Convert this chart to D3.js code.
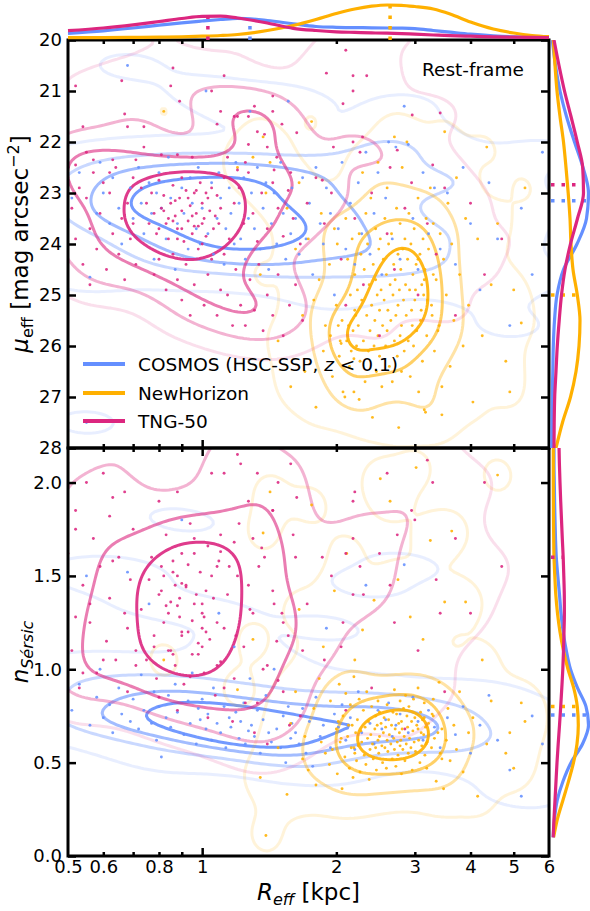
<!DOCTYPE html>
<html>
<head>
<meta charset="utf-8">
<script src="https://cdn.jsdelivr.net/npm/d3@7"></script>
<style>
  html, body { margin: 0; padding: 0; background: #fff; }
  svg { display: block; }
</style>
</head>
<body>
<script>
// ---------------------------------------------------------------
// Galaxy samples: each row is [R_eff (kpc), mu_eff (mag/arcsec^2), n_Sersic]
// ---------------------------------------------------------------
const cosmos = [
  [0.46,22.9,0.8],[0.48,23.5,0.72],[0.47,24.3,0.95],
  [0.51,23.1,0.78],[0.53,22.6,0.92],[0.55,27.5,1.5],[0.56,24.65,0.7],[0.58,23.4,0.85],[0.59,22.4,1.0],
  [0.6,23.0,0.74],[0.62,23.6,0.81],[0.63,22.7,0.66],[0.65,23.3,0.9],[0.66,24.0,0.76],[0.68,20.5,1.52],
  [0.69,22.9,0.72],[0.7,23.5,0.84],[0.72,22.5,0.68],[0.73,23.2,0.97],[0.74,23.8,0.78],[0.76,22.8,1.35],
  [0.77,23.4,0.71],[0.78,24.3,0.88],[0.79,23.0,0.62],
  [0.8,22.6,0.8],[0.81,23.3,0.53],[0.83,23.9,0.74],[0.84,22.3,0.86],[0.85,23.1,0.69],[0.87,24.5,0.92],
  [0.88,23.6,0.77],[0.9,22.9,1.8],[0.91,23.4,0.65],[0.93,24.1,0.83],[0.94,22.7,0.71],[0.95,23.2,0.98],
  [0.97,23.7,0.6],[0.98,22.5,0.79],[0.99,24.0,0.73],
  [1.0,23.3,0.84],[1.02,21.0,0.68],[1.03,23.8,0.76],[1.05,22.8,0.62],[1.06,24.2,0.9],[1.08,23.5,0.71],
  [1.09,22.6,1.3],[1.1,23.1,0.66],[1.12,24.4,0.8],[1.13,23.7,0.58],[1.15,22.9,0.74],[1.16,23.4,0.69],
  [1.18,24.0,1.12],[1.19,22.4,0.77],[1.21,23.2,0.63],[1.22,23.9,0.72],[1.24,22.7,0.82],[1.25,24.3,0.6],
  [1.27,23.5,0.67],[1.28,21.4,0.95],[1.29,23.0,0.7],
  [1.31,23.7,0.64],[1.33,22.5,0.78],[1.35,24.1,0.55],[1.37,23.3,0.73],[1.39,22.8,0.86],[1.41,24.5,0.66],
  [1.43,23.6,0.61],[1.45,23.0,1.0],[1.47,24.0,0.68],[1.5,22.4,0.58],[1.52,23.4,0.75],[1.54,24.3,0.5],
  [1.56,21.2,0.8],[1.58,23.8,0.63],[1.59,22.9,0.71],
  [1.62,23.5,0.66],[1.65,24.2,0.6],[1.68,22.7,0.79],[1.71,23.9,0.55],[1.74,23.2,0.72],[1.77,24.6,0.48],
  [1.8,22.5,0.85],[1.84,23.6,0.64],[1.87,24.0,0.7],[1.9,22.9,1.22],[1.94,23.4,0.58],[1.98,25.0,0.76],
  [2.02,23.7,0.69],[2.06,22.4,0.81],[2.1,24.1,0.62],[2.15,23.2,0.74],[2.2,24.4,0.57],[2.24,22.8,0.88],
  [2.28,23.8,0.66],[2.33,22.2,1.45],[2.38,24.2,0.71],[2.43,23.4,0.6],[2.48,22.6,0.78],[2.53,24.6,0.68],
  [2.58,23.1,0.73],
  [2.62,22.0,0.82],[2.67,23.9,0.64],[2.72,22.1,0.7],[2.78,24.3,0.76],[2.84,21.3,1.56],[2.9,22.05,0.66],
  [2.97,23.5,0.85],[3.05,24.5,0.72],[3.13,22.6,0.62],[3.22,23.8,0.78],[3.32,22.9,0.69],[3.42,24.1,0.58],
  [3.55,23.0,0.74],[3.7,24.4,0.65],[3.85,22.5,0.8],[4.0,23.6,0.55],[4.2,24.9,0.7],[4.4,22.8,0.86],
  [4.6,23.9,0.62],[4.9,25.6,0.46],[5.2,23.3,0.32],[5.5,24.6,0.75],[5.8,22.2,0.6]
];

const newHorizon = [
  [0.82,21.4,1.05],[1.2,22.5,0.89],[1.3,22.3,1.16],[1.37,21.9,1.73],[1.39,23.0,0.11],
  [1.35,24.6,0.42],[1.42,22.4,1.95],[1.48,25.9,0.58],[1.55,23.3,0.33],[1.58,26.8,0.71],
  [1.62,24.1,0.88],[1.65,22.8,1.32],[1.68,25.4,0.52],[1.7,26.5,0.64],[1.73,23.9,0.46],[1.76,21.6,1.88],
  [1.78,25.1,0.79],[1.8,27.2,0.38],[1.83,24.7,0.95],[1.85,23.4,0.61],[1.87,26.1,1.12],[1.89,25.6,0.55],
  [2.02,25.6,0.72],[1.93,24.4,0.49],[1.94,25.8,0.83],[1.96,26.6,0.57],[1.98,23.7,1.42],[2.0,25.2,0.68],
  [2.01,24.0,0.44],[2.03,26.2,0.92],[2.04,25.9,0.61],[2.06,25.5,0.36],[2.07,26.9,0.75],[2.09,27.0,0.53],
  [2.1,23.5,0.87],[2.11,25.9,1.62],[2.12,24.3,0.64],[2.14,26.4,0.47],[2.15,25.0,0.81],[2.16,26.1,0.58],
  [2.17,23.9,0.7],[2.18,25.7,0.42],[2.19,26.9,0.96],[2.2,24.6,0.55],[2.2,25.3,1.05],[2.21,25.4,0.66],
  [2.22,26.0,0.51],[2.05,25.95,0.63],[2.13,25.6,0.7],[2.19,26.25,0.58],
  [2.23,24.9,0.73],[2.24,25.6,0.59],[2.25,23.8,0.84],[2.25,27.05,0.6],[2.26,26.3,0.45],[2.27,24.2,0.67],
  [2.28,25.1,0.61],[2.29,22.6,1.21],[2.3,25.9,0.78],[2.31,24.5,0.54],[2.32,26.7,0.69],[2.33,23.4,0.49],
  [2.34,25.4,0.88],[2.35,24.0,0.63],[2.36,26.1,0.72],[2.37,24.8,0.41],[2.38,25.7,0.57],[2.39,23.1,0.65],
  [2.4,25.2,0.8],[2.41,27.4,0.6],[2.42,24.4,0.52],[2.43,26.0,1.37],[2.44,25.5,0.68],[2.45,23.7,0.75],
  [2.45,24.7,0.58],[2.46,26.5,0.46],[2.47,25.0,0.7],[2.48,22.4,0.83],[2.48,25.8,0.62],[2.49,24.1,0.55],
  [2.5,26.2,0.77],[2.5,25.3,0.64],[2.51,23.9,2.02],[2.52,24.9,0.71],[2.53,26.8,0.59],[2.54,25.6,0.5],
  [2.55,24.3,0.66],[2.56,25.1,0.74],[2.57,23.5,0.58],[2.58,26.0,0.69],[2.59,24.6,0.47],[2.6,25.7,0.81],
  [2.6,22.9,0.62],[2.61,25.3,0.56],[2.62,24.0,0.73],[2.63,26.4,0.65],[2.64,24.8,1.9],[2.65,25.5,0.6],
  [2.66,23.8,0.7],[2.67,26.7,0.52],[2.68,25.0,0.77],[2.69,24.4,0.63],[2.7,21.9,0.89],[2.7,25.9,0.57],
  [2.71,24.7,0.68],[2.72,25.4,0.48],[2.73,23.3,0.76],[2.74,26.2,0.61],[2.75,24.2,0.54],[2.75,25.2,1.48],
  [2.76,27.6,0.71],[2.77,24.9,0.66],[2.78,23.6,0.59],[2.78,25.8,0.83],[2.79,24.5,0.62],[2.8,26.5,0.44],
  [2.8,25.6,0.72],[2.81,22.5,0.68],[2.82,24.1,0.57],[2.83,25.1,0.79],[2.84,26.1,0.64],[2.85,23.9,0.51],
  [2.86,24.8,0.86],[2.87,25.4,0.6],
  [2.88,22.0,0.75],[2.89,24.3,0.69],[2.9,25.9,0.55],[2.91,23.4,0.8],[2.92,24.9,0.63],[2.93,26.6,1.28],
  [2.94,24.0,0.58],[2.95,25.3,0.72],[2.96,25.6,0.46],[2.97,24.6,0.67],[2.98,26.0,0.84],[2.99,23.7,0.61],
  [3.0,25.1,0.74],[3.01,24.9,0.56],[3.02,24.4,2.08],[3.03,25.7,0.7],[3.05,23.1,0.9],[3.06,26.9,0.62],
  [3.08,24.2,0.5],[3.09,25.5,0.77],[3.1,25.3,0.66],[3.11,24.8,0.59],[3.12,26.3,0.73],[3.13,23.9,1.16],
  [3.14,25.0,0.65],[3.15,27.25,0.74],[3.15,24.7,0.82],[3.16,24.5,0.54],[3.17,27.3,0.69],[3.18,23.5,0.6],
  [3.19,25.8,0.47],[3.05,24.3,0.68],[3.2,25.1,0.61],[3.3,24.6,0.75],[3.38,25.7,0.66],
  [3.22,24.1,0.71],[3.25,22.9,1.69],[3.27,25.2,0.58],[3.3,23.6,0.84],[3.32,26.1,0.63],[3.35,24.7,0.4],
  [3.28,25.4,0.76],[3.4,25.6,0.93],[3.42,23.8,0.55],[3.45,26.8,0.68],[3.45,27.35,0.52],[3.48,24.3,0.36],
  [3.5,21.8,1.36],[3.53,25.0,0.62],[3.56,23.2,0.79],[3.6,26.4,0.51],[3.63,24.0,1.74],[3.67,25.5,0.7],
  [3.72,22.7,0.57],[3.78,24.6,0.88],[3.85,26.0,0.45],[3.9,23.5,1.36],[3.96,25.2,0.66],[4.05,27.1,0.74],
  [4.15,23.9,0.32],[4.25,25.8,1.05],[4.35,22.1,0.6],[4.45,24.8,0.83],
  [4.6,23.6,2.04],[4.8,26.3,0.55],[4.9,26.9,0.66],[5.0,24.9,0.47],[5.2,25.55,0.82],[5.3,22.9,0.72]
];

const tng50 = [
  // compact and very bright systems near the plot edges
  [0.45,22.6,1.45],[0.47,23.4,1.9],[0.46,21.8,2.6],[0.48,24.1,1.2],[0.44,23.0,2.1],[0.49,22.2,0.95],
  [0.8,19.6,2.4],[1.3,19.8,1.7],[2.2,19.7,2.9],[1.0,19.4,1.35],[0.6,19.8,1.05],[3.0,19.9,1.8],
  // high surface brightness band
  [0.86,20.55,1.52],[0.66,20.8,2.3],[0.52,20.9,1.75],[1.12,20.7,2.05],[0.85,20.9,1.1],[1.05,21.0,2.7],
  [0.89,21.2,1.38],[0.67,21.45,1.95],[0.68,21.7,1.22],[0.74,21.7,2.45],[0.54,21.7,0.98],[1.18,21.5,1.68],
  [1.2,21.5,2.15],[1.27,21.5,1.45],[1.31,21.3,3.1],[1.44,21.1,1.85],[1.44,21.4,2.4],[1.51,21.65,1.3],
  [1.33,21.8,2.05],[1.38,21.85,1.6],[1.4,22.1,2.8],[1.47,22.3,1.15],[1.27,22.05,1.9],[1.14,22.3,2.25],
  [1.08,21.65,1.55],[1.1,21.4,1.72],[0.95,22.3,2.5],[0.81,22.25,1.42],[0.88,22.25,1.95],[0.71,22.35,1.1],
  [0.74,22.1,2.35],[0.63,22.35,1.58],[0.57,22.35,2.9],[0.52,22.45,1.28],[0.55,22.2,2.0],[0.62,22.6,1.82],
  [1.2,22.55,1.5],[1.25,22.4,2.6],[1.45,22.55,1.35],[1.58,22.6,2.1],[2.1,20.2,1.62],[1.9,20.65,2.35],
  [2.18,20.7,1.4],[2.34,20.7,2.75],[2.18,21.0,1.9],[2.07,21.25,1.25],[2.29,21.9,2.2],[2.18,22.0,1.7],
  [1.97,22.1,2.45],[2.26,22.2,1.55],[3.29,22.45,2.0],[2.64,22.5,1.45],[2.74,22.16,1.72],[2.96,21.47,2.3],
  [3.42,21.43,1.3],[1.63,21.82,1.92],[1.86,22.75,1.6],
  // dense core
  [0.73,22.9,1.32],[0.75,23.2,1.05],[0.76,23.6,1.48],[0.77,23.0,1.6],[0.78,23.4,1.18],[0.79,23.8,0.95],
  [0.8,22.75,1.4],[0.81,23.3,1.55],[0.82,23.05,1.25],[0.83,23.6,1.72],[0.84,23.9,1.1],[0.85,23.2,1.36],
  [0.86,22.85,2.3],[0.87,23.45,1.02],[0.88,23.7,1.5],[0.89,23.1,1.28],[0.9,23.35,1.62],[0.91,23.95,0.92],
  [0.92,22.95,1.44],[0.93,23.55,1.2],[0.94,23.25,1.78],[0.95,23.8,1.08],[0.96,23.0,1.35],[0.97,23.4,2.6],
  [0.98,23.65,1.14],[0.99,22.8,1.52],[1.0,23.2,1.3],[1.01,23.5,0.98],[1.02,23.85,1.42],[1.03,23.1,1.66],
  [1.04,23.35,1.16],[1.05,22.9,2.05],[1.06,23.7,1.38],[1.07,23.45,0.86],[1.08,23.05,1.25],[1.09,23.6,1.58],
  [1.1,23.3,1.04],[0.8,23.7,1.9],[0.9,22.7,1.46],[1.0,24.0,1.22],
  [0.84,23.5,1.3],[0.87,23.15,1.45],[0.9,23.7,1.18],[0.93,23.1,1.56],[0.95,23.45,1.26],[0.97,22.95,1.4],
  [1.0,23.6,1.12],[0.82,23.35,1.5],[0.88,23.9,1.34],[0.96,23.65,1.62],[1.02,23.0,1.2],[0.86,23.55,1.08],
  // smallest sizes
  [0.5,22.5,1.62],[0.51,23.3,1.1],[0.52,23.9,1.85],[0.53,22.9,0.9],[0.54,24.4,1.45],[0.55,23.1,2.4],
  [0.56,23.7,1.25],[0.57,22.6,1.7],[0.58,24.1,0.98],[0.59,23.4,1.55],[0.6,22.8,2.05],[0.61,24.5,1.15],
  [0.62,23.0,1.38],[0.63,23.8,1.92],[0.64,22.5,1.05],[0.65,24.2,1.6],[0.66,23.5,2.25],[0.67,24.7,1.3],
  [0.68,23.2,0.88],[0.69,23.9,1.48],[0.7,22.7,1.75],[0.71,24.4,1.02],[0.7,23.6,2.8],[0.56,24.8,1.35],
  // fainter diagonal sequence
  [0.78,24.6,1.12],[0.8,24.3,0.85],[0.83,24.9,1.34],[0.86,24.2,1.58],[0.88,24.7,0.78],[0.9,25.1,1.2],
  [0.92,24.4,1.45],[0.94,25.4,0.96],[0.96,24.8,1.7],[0.98,24.1,1.08],[1.01,25.2,1.28],[1.03,24.6,0.74],
  [1.05,24.3,1.5],[1.08,25.4,1.02],[1.1,24.9,1.63],[1.12,24.2,0.9],[1.14,25.0,1.4],[1.17,25.6,0.72],
  [1.19,24.5,1.18],[1.22,25.2,2.1],[1.25,25.6,0.82],[1.28,24.7,1.32],[1.31,25.3,0.66],[1.34,24.4,1.55],
  [1.37,25.7,1.0],[1.4,25.0,0.6],[1.44,25.4,1.85],[1.48,24.6,0.94],[1.52,25.8,1.25],[1.57,25.2,0.7],
  [1.62,24.8,1.6],[1.68,25.5,1.1],
  // intermediate sizes
  [1.12,22.7,1.22],[1.15,23.9,1.55],[1.18,23.2,0.95],[1.21,22.9,1.78],[1.24,23.6,1.12],[1.27,22.6,2.35],
  [1.3,23.4,1.3],[1.33,23.95,0.82],[1.36,23.0,1.65],[1.4,23.7,1.02],[1.44,22.8,1.42],[1.48,23.3,2.0],
  [1.52,23.85,0.88],[1.56,22.95,1.18],[1.6,23.5,1.72],[1.66,24.0,0.75],[1.72,23.2,1.35],[1.8,22.7,2.2],
  [1.88,23.6,1.05],[1.95,23.0,1.5],
  // extended systems
  [2.05,24.3,1.12],[2.1,25.2,0.78],[2.2,23.5,1.95],[2.3,24.8,1.4],[2.4,23.0,0.9],[2.5,25.8,1.62],
  [2.6,23.8,2.05],[2.7,24.5,1.25],[2.85,23.3,0.68],[2.95,22.8,1.85],[3.05,25.0,1.1],[3.2,23.6,2.12],
  [3.35,24.2,1.48],[3.5,22.9,0.88],[3.7,25.4,1.7],[4.0,23.2,1.3],[4.3,24.6,2.0],[4.7,23.9,1.55]
];

// ---------------------------------------------------------------
// Marginal density curves (arbitrary density units) and medians
// ---------------------------------------------------------------
const reffGrid = [0.5,0.6,0.7,0.8,0.9,1.0,1.1,1.2,1.4,1.6,1.8,2.0,2.2,2.4,2.6,2.8,3.0,3.3,3.6,4.0,4.5,5.0,5.5,6.0];
const reffDensCosmos = [0.67,0.92,1.2,1.48,1.72,1.9,2.05,2.17,1.95,1.62,1.35,1.27,1.24,1.22,1.2,1.18,1.13,0.95,0.78,0.58,0.42,0.32,0.28,0.27];
const reffDensNH     = [0.23,0.24,0.26,0.28,0.32,0.38,0.45,0.55,0.95,1.45,2.05,2.65,3.1,3.38,3.5,3.47,3.35,3.1,2.6,1.8,1.1,0.7,0.45,0.33];
const reffDensTNG    = [0.93,1.2,1.52,1.85,2.15,2.37,2.38,2.2,1.7,1.17,0.95,0.82,0.76,0.71,0.68,0.64,0.58,0.5,0.43,0.38,0.32,0.28,0.27,0.25];

const muGrid = [20,20.5,21,21.5,22,22.5,23,23.5,24,24.5,25,25.5,26,26.5,27,27.5,28];
const muDensCosmos = [0.33,0.65,1.1,1.75,2.55,3.4,3.95,3.75,2.8,1.45,0.8,0.55,0.43,0.38,0.33,0.3,0.27];
const muDensNH     = [0.43,0.6,0.8,1.1,1.45,1.7,1.92,2.1,2.2,2.4,2.83,3.1,3.0,2.7,2.15,1.35,0.7];
const muDensTNG    = [0.5,1.0,1.55,2.2,2.83,3.37,3.45,2.85,2.15,1.6,1.25,1.02,0.83,0.7,0.57,0.52,0.5];

const nGrid = [0.1,0.2,0.3,0.4,0.5,0.6,0.7,0.8,0.9,1.0,1.1,1.2,1.3,1.4,1.5,1.6,1.7,1.8,1.9,2.0,2.1,2.2];
const nDensCosmos = [0.42,0.55,0.83,1.4,2.2,3.35,3.95,3.7,2.85,2.15,1.73,1.42,1.2,1.05,0.88,0.73,0.65,0.6,0.56,0.53,0.5,0.5];
const nDensNH     = [0.46,0.85,1.4,1.95,2.45,2.8,2.93,2.83,2.47,1.9,1.45,1.1,0.85,0.68,0.58,0.5,0.47,0.45,0.44,0.43,0.43,0.43];
const nDensTNG    = [0.42,0.5,0.6,0.7,0.8,0.92,1.05,1.17,1.28,1.38,1.45,1.5,1.54,1.53,1.48,1.42,1.33,1.25,1.17,1.1,1.04,1.0];

const reffMedian = [1.28, 2.64, 1.03];   // COSMOS, NewHorizon, TNG-50
const muMedian   = [23.15, 25.0, 22.84];
const nMedian    = [0.755, 0.80, 1.60];

// Axis ticks
const xTickVals  = [0.5,0.6,0.7,0.8,0.9,1,2,3,4,5,6];
const xLabelVals = [0.5,0.6,0.8,1,2,3,4,5,6];
const muTicks    = [20,21,22,23,24,25,26,27,28];
const nTicks     = [0,0.5,1.0,1.5,2.0];

const sampleNames  = ["COSMOS (HSC-SSP, ", "NewHorizon", "TNG-50"];
const sampleColors = ["#648FFF", "#FFB000", "#DC267F"];

// ---------------------------------------------------------------
const W = 590, H = 911;
const L = 68, R = 549, T0 = 40, MID = 448, B1 = 856;

const x    = d3.scaleLog().domain([0.5, 6]).range([L, R]);
const yTop = d3.scaleLinear().domain([20, 28]).range([T0, MID]);
const yBot = d3.scaleLinear().domain([0, 2.185]).range([B1, MID]);
const topMarg   = d3.scaleLinear().domain([0, 4]).range([T0, 0]);
const rightMarg = d3.scaleLinear().domain([0, 4]).range([R, R + 40]);

const svg = d3.select("body").append("svg")
  .attr("width", W).attr("height", H)
  .style("font-family", '"DejaVu Sans", sans-serif');

const defs = svg.append("defs");
defs.append("clipPath").attr("id", "clipTop").append("rect")
  .attr("x", L).attr("y", T0).attr("width", R - L).attr("height", MID - T0);
defs.append("clipPath").attr("id", "clipBot").append("rect")
  .attr("x", L).attr("y", MID).attr("width", R - L).attr("height", B1 - MID);
defs.append("clipPath").attr("id", "clipRTop").append("rect")
  .attr("x", R).attr("y", T0).attr("width", W - R).attr("height", MID - T0);
defs.append("clipPath").attr("id", "clipRBot").append("rect")
  .attr("x", R).attr("y", MID).attr("width", W - R).attr("height", B1 - MID);

const samples = [cosmos, newHorizon, tng50];

// ---------------------------------------------------------------
// Gaussian KDE in display space (Scott bandwidth, full covariance),
// contoured at iso-proportion levels of the probability mass.
// ---------------------------------------------------------------
const massLevels   = [0.95, 0.7125, 0.475, 0.2375];
const levelOpacity = [0.15, 0.35, 0.6, 0.9];

function kdeContours(pts, bwAdjust) {
  const n = pts.length;
  const mx = d3.mean(pts, p => p[0]), my = d3.mean(pts, p => p[1]);
  let cxx = 0, cyy = 0, cxy = 0;
  for (const [px, py] of pts) {
    cxx += (px - mx) * (px - mx);
    cyy += (py - my) * (py - my);
    cxy += (px - mx) * (py - my);
  }
  cxx /= (n - 1); cyy /= (n - 1); cxy /= (n - 1);
  const f = Math.pow(n, -1 / 6) * bwAdjust, f2 = f * f;
  const a = cxx * f2, b = cxy * f2, d = cyy * f2;
  const det = a * d - b * b;
  const ia = d / det, ib = -b / det, id = a / det;
  const sx = Math.sqrt(a), sy = Math.sqrt(d);
  const cell = 3;
  const x0 = Math.min(d3.min(pts, p => p[0]) - 3 * sx, L - 20);
  const x1 = Math.max(d3.max(pts, p => p[0]) + 3 * sx, R + 20);
  const y0 = Math.min(d3.min(pts, p => p[1]) - 3 * sy, T0 - 20);
  const y1 = Math.max(d3.max(pts, p => p[1]) + 3 * sy, B1 + 20);
  const nx = Math.ceil((x1 - x0) / cell) + 1, ny = Math.ceil((y1 - y0) / cell) + 1;
  const values = new Float64Array(nx * ny);
  for (const [px, py] of pts) {
    const i0 = Math.max(0, Math.floor((px - 4.5 * sx - x0) / cell));
    const i1 = Math.min(nx - 1, Math.ceil((px + 4.5 * sx - x0) / cell));
    const j0 = Math.max(0, Math.floor((py - 4.5 * sy - y0) / cell));
    const j1 = Math.min(ny - 1, Math.ceil((py + 4.5 * sy - y0) / cell));
    for (let j = j0; j <= j1; j++) {
      const dy = y0 + j * cell - py;
      for (let i = i0; i <= i1; i++) {
        const dx = x0 + i * cell - px;
        const q = ia * dx * dx + 2 * ib * dx * dy + id * dy * dy;
        if (q < 30) values[j * nx + i] += Math.exp(-0.5 * q);
      }
    }
  }
  const sorted = Float64Array.from(values).sort().reverse();
  const total = d3.sum(sorted);
  const thresholds = massLevels.map(p => {
    let c = 0;
    for (let k = 0; k < sorted.length; k++) {
      c += sorted[k];
      if (c >= p * total) return sorted[k];
    }
    return sorted[sorted.length - 1];
  });
  const gen = d3.contours().size([nx, ny]);
  const path = d3.geoPath(d3.geoTransform({
    point(gx, gy) { this.stream.point(x0 + (gx - 0.5) * cell, y0 + (gy - 0.5) * cell); }
  }));
  return thresholds.map(t => path(gen.contour(values, t)));
}

function drawPanel(clipId, yScale, col, bwAdjusts) {
  const gC = svg.append("g").attr("clip-path", `url(#${clipId})`);
  samples.forEach((rows, k) => {
    const pts = rows.map(r => [x(r[0]), yScale(r[col])]);
    const paths = kdeContours(pts, bwAdjusts[k]);
    paths.forEach((p, li) => {
      gC.append("path").attr("d", p)
        .attr("fill", "none")
        .attr("stroke", sampleColors[k])
        .attr("stroke-opacity", levelOpacity[li])
        .attr("stroke-width", 3)
        .attr("stroke-linejoin", "round");
    });
  });
  const gP = svg.append("g").attr("clip-path", `url(#${clipId})`);
  samples.forEach((rows, k) => {
    gP.selectAll(null).data(rows).join("circle")
      .attr("cx", r => x(r[0]))
      .attr("cy", r => yScale(r[col]))
      .attr("r", 1.45)
      .attr("fill", sampleColors[k])
      .attr("fill-opacity", 0.88);
  });
}

drawPanel("clipTop", yTop, 1, [0.72, 0.75, 0.7]);
drawPanel("clipBot", yBot, 2, [0.72, 0.75, 0.7]);

// ---------------------------------------------------------------
// Axes: spines and inward ticks on all sides
// ---------------------------------------------------------------
const fmtX = d3.format("~g");
function xEdge(yPos, dir, labels) {
  const ax = (dir === "up" ? d3.axisBottom(x) : d3.axisTop(x))
    .tickValues(xTickVals).tickSize(0).tickPadding(4)
    .tickFormat(d => labels && xLabelVals.includes(d) ? fmtX(d) : "");
  const g = svg.append("g").attr("transform", `translate(0,${yPos})`).call(ax);
  g.select(".domain").remove();
  g.selectAll(".tick line")
    .attr("y2", d => {
      if (d === 0.5 || d === 6) return 0;
      const len = d === 1 ? 8 : 4;
      return dir === "up" ? -len : len;
    })
    .attr("stroke", "#000").attr("stroke-width", 2.5);
  g.selectAll(".tick text").attr("font-size", 18).attr("fill", "#000")
    .attr("font-family", '"DejaVu Sans", sans-serif');
}
xEdge(T0, "down", false);
xEdge(MID, "up", false);
xEdge(MID, "down", false);
xEdge(B1, "up", true);

function yEdges(scale, ticks, fmt) {
  const gl = svg.append("g").attr("transform", `translate(${L},0)`)
    .call(d3.axisLeft(scale).tickValues(ticks).tickSize(-8).tickPadding(6).tickFormat(fmt));
  gl.select(".domain").remove();
  gl.selectAll(".tick line").attr("stroke", "#000").attr("stroke-width", 2.5);
  gl.selectAll(".tick text").attr("font-size", 18).attr("fill", "#000")
    .attr("font-family", '"DejaVu Sans", sans-serif');
  const gr = svg.append("g").attr("transform", `translate(${R},0)`)
    .call(d3.axisRight(scale).tickValues(ticks).tickSize(-8).tickFormat(""));
  gr.select(".domain").remove();
  gr.selectAll(".tick line").attr("stroke", "#000").attr("stroke-width", 2.5);
}
yEdges(yTop, muTicks, d3.format("d"));
yEdges(yBot, nTicks, d3.format(".1f"));

svg.append("rect").attr("x", L).attr("y", T0).attr("width", R - L).attr("height", MID - T0)
  .attr("fill", "none").attr("stroke", "#000").attr("stroke-width", 3);
svg.append("rect").attr("x", L).attr("y", MID).attr("width", R - L).attr("height", B1 - MID)
  .attr("fill", "none").attr("stroke", "#000").attr("stroke-width", 3);

// ---------------------------------------------------------------
// Axis titles, annotation, legend
// ---------------------------------------------------------------
const xl = svg.append("text").attr("x", (L + R) / 2).attr("y", 900)
  .attr("text-anchor", "middle").attr("font-size", 23).attr("fill", "#000");
xl.append("tspan").attr("font-style", "italic").text("R");
xl.append("tspan").attr("font-style", "italic").attr("font-size", 16).attr("dy", 5).text("eff");
xl.append("tspan").attr("dy", -5).text(" [kpc]");

const ylt = svg.append("text")
  .attr("transform", `translate(28,${(T0 + MID) / 2}) rotate(-90)`)
  .attr("text-anchor", "middle").attr("font-size", 23).attr("fill", "#000");
ylt.append("tspan").attr("font-style", "italic").text("μ");
ylt.append("tspan").attr("font-size", 16).attr("dy", 5).text("eff");
ylt.append("tspan").attr("dy", -5).text(" [mag arcsec");
ylt.append("tspan").attr("font-size", 16).attr("dy", -9).text("−2");
ylt.append("tspan").attr("dy", 9).text("]");

const ylb = svg.append("text")
  .attr("transform", `translate(28,${(MID + B1) / 2}) rotate(-90)`)
  .attr("text-anchor", "middle").attr("font-size", 23).attr("fill", "#000");
ylb.append("tspan").attr("font-style", "italic").text("n");
ylb.append("tspan").attr("font-style", "italic").attr("font-size", 16).attr("dy", 5).text("Sérsic");

svg.append("text").attr("x", 422).attr("y", 76).attr("font-size", 18.5).attr("fill", "#000")
  .text("Rest-frame");

const legendY = [364, 393, 421];
sampleNames.forEach((name, k) => {
  svg.append("line").attr("x1", 83).attr("x2", 125).attr("y1", legendY[k]).attr("y2", legendY[k])
    .attr("stroke", sampleColors[k]).attr("stroke-width", 4);
  const t = svg.append("text").attr("x", 138).attr("y", legendY[k] + 6.6)
    .attr("font-size", 18.5).attr("fill", "#000");
  t.append("tspan").text(name);
  if (k === 0) {
    t.append("tspan").attr("font-style", "italic").text("z");
    t.append("tspan").text(" < 0.1)");
  }
});

// ---------------------------------------------------------------
// Marginal distributions with dotted median markers
// ---------------------------------------------------------------
function interpAt(grid, dens, v, logGrid) {
  const g = logGrid ? grid.map(Math.log) : grid;
  const u = logGrid ? Math.log(v) : v;
  const i = Math.max(1, Math.min(g.length - 1, d3.bisectLeft(g, u)));
  const t = (u - g[i - 1]) / (g[i] - g[i - 1]);
  return dens[i - 1] + t * (dens[i] - dens[i - 1]);
}

const reffDens = [reffDensCosmos, reffDensNH, reffDensTNG];
const muDens   = [muDensCosmos, muDensNH, muDensTNG];
const nDens    = [nDensCosmos, nDensNH, nDensTNG];

const gm = svg.append("g");
const topLine = d3.line().x((d, i) => x(reffGrid[i])).y(d => topMarg(d)).curve(d3.curveMonotoneX);
const gRT = gm.append("g").attr("clip-path", "url(#clipRTop)");
const gRB = gm.append("g").attr("clip-path", "url(#clipRBot)");
const muLine = d3.line().x(d => rightMarg(d)).y((d, i) => yTop(muGrid[i])).curve(d3.curveMonotoneY);
const nLine  = d3.line().x(d => rightMarg(d)).y((d, i) => yBot(nGrid[i])).curve(d3.curveMonotoneY);

[0, 1, 2].forEach(k => {
  const c = sampleColors[k];
  // top: R_eff
  gm.append("path").attr("d", topLine(reffDens[k])).attr("fill", "none")
    .attr("stroke", c).attr("stroke-width", 3.2);
  const vr = interpAt(reffGrid, reffDens[k], reffMedian[k], true);
  gm.append("line").attr("x1", x(reffMedian[k])).attr("x2", x(reffMedian[k]))
    .attr("y1", T0).attr("y2", topMarg(vr))
    .attr("stroke", c).attr("stroke-width", 3.5).attr("stroke-dasharray", "3.5,7");
  // right of top panel: mu_eff
  gRT.append("path").attr("d", muLine(muDens[k])).attr("fill", "none")
    .attr("stroke", c).attr("stroke-width", 3.2);
  const vm = interpAt(muGrid, muDens[k], muMedian[k], false);
  gRT.append("line").attr("y1", yTop(muMedian[k])).attr("y2", yTop(muMedian[k]))
    .attr("x1", R + 2).attr("x2", rightMarg(vm))
    .attr("stroke", c).attr("stroke-width", 3.5).attr("stroke-dasharray", "3.5,7");
  // right of bottom panel: n
  gRB.append("path").attr("d", nLine(nDens[k])).attr("fill", "none")
    .attr("stroke", c).attr("stroke-width", 3.2);
  const vn = interpAt(nGrid, nDens[k], nMedian[k], false);
  gRB.append("line").attr("y1", yBot(nMedian[k])).attr("y2", yBot(nMedian[k]))
    .attr("x1", R + 2).attr("x2", rightMarg(vn))
    .attr("stroke", c).attr("stroke-width", 3.5).attr("stroke-dasharray", "3.5,7");
});
</script>
</body>
</html>
